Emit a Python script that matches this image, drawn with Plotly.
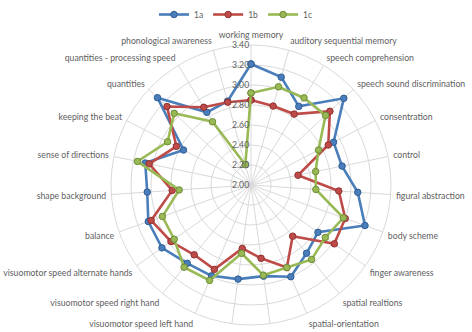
import plotly.graph_objects as go

categories = [
    "working memory", "auditory sequential memory", "speech comprehension",
    "speech sound discrimination", "consentration", "control",
    "figural abstraction", "body scheme", "finger awareness",
    "spatial realtions", "spatial-orientation", "", "",
    "visuomotor speed left hand", "visuomotor speed right hand",
    "visuomotor speed alternate hands", "balance", "shape background",
    "sense of directions", "keeping the beat", "quantities",
    "quantities - processing speed", "phonological awareness",
]

series_names = ["1a", "1b", "1c"]
values_1a = [3.21, 3.12, 2.92, 3.27, 2.93, 2.93, 3.07, 3.21, 2.82, 2.88, 3.00, 2.92,
             2.95, 2.99, 3.01, 3.09, 3.09, 3.04, 3.08, 2.76, 3.28, 2.85, 2.87]
values_1b = [2.85, 2.82, 2.83, 3.08, 2.87, 2.48, 2.88, 3.00, 3.02, 2.66, 2.90, 2.74,
             2.64, 2.92, 2.90, 2.98, 3.06, 2.79, 3.04, 2.84, 3.15, 2.91, 2.86]
values_1c = [2.92, 3.02, 3.02, 3.02, 2.76, 2.66, 2.65, 2.98, 2.91, 2.96, 2.90, 2.91,
             2.69, 3.04, 3.06, 2.94, 2.94, 2.72, 3.16, 2.94, 3.05, 2.74, 2.21]

radial_ticks = [2.0, 2.2, 2.4, 2.6, 2.8, 3.0, 3.2, 3.4]

colors = ["#4a7ebb", "#be4b48", "#98b954"]
edge_colors = ["#2f5d95", "#8f3230", "#6f8c3a"]

n = len(categories)
angles = [i * 360.0 / n for i in range(n)]

fig = go.Figure()
for name, vals, c, ec in zip(series_names, [values_1a, values_1b, values_1c], colors, edge_colors):
    fig.add_trace(go.Scatterpolar(
        r=vals + vals[:1],
        theta=angles + angles[:1],
        mode="lines+markers",
        name=name,
        line=dict(color=c, width=2.6),
        marker=dict(symbol="circle", size=6.5, color=c, line=dict(color=ec, width=1)),
    ))

grid = "#d9d9d9"
txt = "#606060"
cx, cy, R = 251, 185, 140
fig.update_layout(
    width=472, height=332,
    margin=dict(l=0, r=0, t=0, b=0),
    paper_bgcolor="white",
    font=dict(family="Lato", size=8.7, color=txt),
    showlegend=True,
    legend=dict(orientation="h", x=0.5, xanchor="center", y=1.0, yanchor="top",
                font=dict(size=8.5, color=txt), itemwidth=30,
                bgcolor="rgba(0,0,0,0)", tracegroupgap=0),
    polar=dict(
        domain=dict(x=[(cx - R) / 472, (cx + R) / 472],
                    y=[1 - (cy + R) / 332, 1 - (cy - R) / 332]),
        bgcolor="white",
        gridshape="linear",
        radialaxis=dict(
            range=[2.0, 3.4], tickvals=radial_ticks, tickformat=".2f",
            angle=90, side="counterclockwise", tickangle=90,
            showline=False, gridcolor=grid, gridwidth=1,
            ticks="", tickfont=dict(size=8.7, color=txt),
        ),
        angularaxis=dict(
            type="linear", thetaunit="degrees",
            rotation=90, direction="clockwise",
            tickmode="array", tickvals=angles, ticktext=categories,
            showline=True, linecolor=grid, linewidth=1,
            gridcolor=grid, gridwidth=1,
            ticks="outside", ticklen=3, tickcolor="rgba(0,0,0,0)",
            tickfont=dict(size=8.7, color=txt),
        ),
    ),
)

fig.write_html("out.html")
